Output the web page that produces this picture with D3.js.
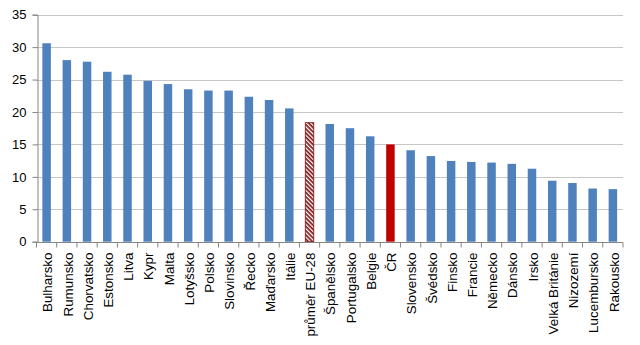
<!DOCTYPE html>
<html>
<head>
<meta charset="utf-8">
<script src="https://cdn.jsdelivr.net/npm/d3@7"></script>
<style>
  html, body { margin: 0; padding: 0; background: #fff; }
  svg { display: block; }
  text { font-family: "Liberation Sans", Arial, sans-serif; fill: #000; }
</style>
</head>
<body>
<svg id="chart" width="640" height="345"></svg>
<script>
// Countries, ordered by value
const countries = [
  "Bulharsko", "Rumunsko", "Chorvatsko", "Estonsko", "Litva", "Kypr", "Malta",
  "Lotyšsko", "Polsko", "Slovinsko", "Řecko", "Maďarsko", "Itálie",
  "průměr EU-28", "Španělsko", "Portugalsko", "Belgie", "ČR", "Slovensko",
  "Švédsko", "Finsko", "Francie", "Německo", "Dánsko", "Irsko",
  "Velká Británie", "Nizozemí", "Lucembursko", "Rakousko"
];
const values = [
  30.6, 28.0, 27.75, 26.2, 25.75, 24.8, 24.3,
  23.5, 23.3, 23.3, 22.35, 21.85, 20.55,
  18.35, 18.15, 17.5, 16.25, 15.0, 14.1,
  13.2, 12.45, 12.3, 12.2, 12.0, 11.25,
  9.4, 9.05, 8.2, 8.1
];
const yTicks = [0, 5, 10, 15, 20, 25, 30, 35];
const averageLabel = "průměr EU-28";
const highlightLabel = "ČR";

const data = countries.map((c, i) => ({ name: c, value: values[i] }));

const svg = d3.select("#chart");
const margin = { left: 36.5, right: 17, top: 14.7, bottom: 103.3 };
const W = 640, H = 345;

const x = d3.scaleBand()
  .domain(countries)
  .range([margin.left, W - margin.right])
  .paddingInner(0.58)
  .paddingOuter(0.29);

const y = d3.scaleLinear()
  .domain([0, 35])
  .range([H - margin.bottom, margin.top]);

// Diagonal hatch for the EU average bar
const defs = svg.append("defs");
const pat = defs.append("pattern")
  .attr("id", "hatch")
  .attr("patternUnits", "userSpaceOnUse")
  .attr("width", 3).attr("height", 3)
  .attr("patternTransform", "rotate(45)");
pat.append("rect").attr("width", 3).attr("height", 3).attr("fill", "#fff");
pat.append("rect").attr("width", 3).attr("height", 1.7).attr("fill", "#7a1515");

// Horizontal dotted gridlines
svg.append("g")
  .selectAll("line")
  .data(yTicks.filter(t => t > 0))
  .join("line")
  .attr("x1", margin.left).attr("x2", W - margin.right)
  .attr("y1", d => Math.round(y(d)) + 0.5).attr("y2", d => Math.round(y(d)) + 0.5)
  .attr("stroke", "#8c8c8c")
  .attr("stroke-width", 1)
  .attr("stroke-dasharray", "1,1");

// Bars
svg.append("g")
  .selectAll("rect")
  .data(data)
  .join("rect")
  .attr("x", d => x(d.name))
  .attr("width", x.bandwidth())
  .attr("y", d => y(d.value))
  .attr("height", d => y(0) - y(d.value))
  .attr("fill", d => d.name === averageLabel ? "url(#hatch)"
                   : d.name === highlightLabel ? "#c00000" : "#4f81bd")
  .attr("stroke", d => d.name === averageLabel ? "#7a1515" : "none")
  .attr("stroke-width", 0.8);

// Y axis
const yAxis = d3.axisLeft(y)
  .tickValues(yTicks)
  .tickSize(5)
  .tickPadding(6);
const gy = svg.append("g")
  .attr("transform", `translate(${Math.round(margin.left) + 0.5},0)`)
  .call(yAxis);
gy.select(".domain").attr("stroke", "#868686");
gy.selectAll(".tick line").attr("stroke", "#868686");
gy.selectAll(".tick text")
  .style("font-size", "13px")
  .attr("fill", "#000");

// X axis with ticks between categories
const gx = svg.append("g")
  .attr("transform", `translate(0,${Math.round(y(0)) + 0.5})`);
gx.append("line")
  .attr("x1", margin.left).attr("x2", W - margin.right)
  .attr("stroke", "#868686");
const n = countries.length;
const plotW = W - margin.right - margin.left;
gx.selectAll("line.tk")
  .data(d3.range(n + 1))
  .join("line")
  .attr("class", "tk")
  .attr("x1", i => margin.left + i * plotW / n)
  .attr("x2", i => margin.left + i * plotW / n)
  .attr("y1", 0).attr("y2", 5)
  .attr("stroke", "#868686");

gx.selectAll("text")
  .data(countries)
  .join("text")
  .attr("transform", d => `translate(${x(d) + x.bandwidth() / 2 + 1},10) rotate(-90)`)
  .attr("text-anchor", "end")
  .attr("dy", "0.35em")
  .style("font-size", "13.4px")
  .text(d => d);
</script>
</body>
</html>
